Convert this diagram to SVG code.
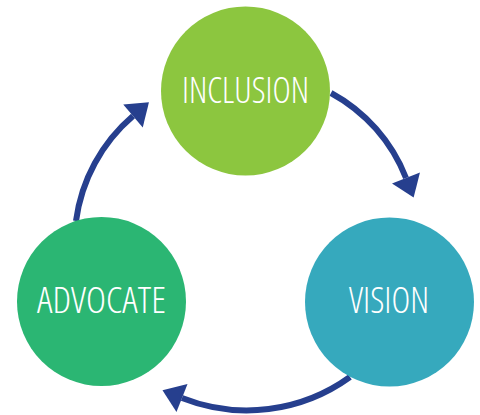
<svg xmlns="http://www.w3.org/2000/svg" width="480" height="415" viewBox="0 0 480 415">
  <style>
    .lbl { fill: #ffffff; font-family: "Open Sans", "Roboto", "Liberation Sans Narrow", "DejaVu Sans Condensed", sans-serif; font-size: 36px; font-weight: 300; font-stretch: 75%; text-anchor: middle; }
    .conn { fill: none; stroke: #263F8E; stroke-width: 6; stroke-linecap: butt; }
  </style>
  <defs>
    <marker id="head" markerUnits="userSpaceOnUse" markerWidth="22" markerHeight="32" refX="0" refY="16" orient="auto" overflow="visible">
      <path d="M0,1 L21,16 L0,31 z" fill="#263F8E"/>
    </marker>
  </defs>
  <g id="connectors">
    <path class="conn" d="M331,93 A165,165 0 0 1 406,178" marker-end="url(#head)"/>
    <path class="conn" d="M350,377 A176,176 0 0 1 182,398" marker-end="url(#head)"/>
    <path class="conn" d="M76,221 A167,167 0 0 1 133,116" marker-end="url(#head)"/>
  </g>
  <g id="inclusion">
    <circle cx="245.5" cy="91" r="84.5" fill="#8CC63F"/>
    <text class="lbl" x="245.5" y="103" textLength="127" lengthAdjust="spacingAndGlyphs">INCLUSION</text>
  </g>
  <g id="vision">
    <circle cx="389.5" cy="302" r="84.5" fill="#36A9BD"/>
    <text class="lbl" x="389" y="313" textLength="80" lengthAdjust="spacingAndGlyphs">VISION</text>
  </g>
  <g id="advocate">
    <circle cx="101.5" cy="301.5" r="84.5" fill="#2BB673"/>
    <text class="lbl" x="101.5" y="313" textLength="129" lengthAdjust="spacingAndGlyphs">ADVOCATE</text>
  </g>
</svg>
